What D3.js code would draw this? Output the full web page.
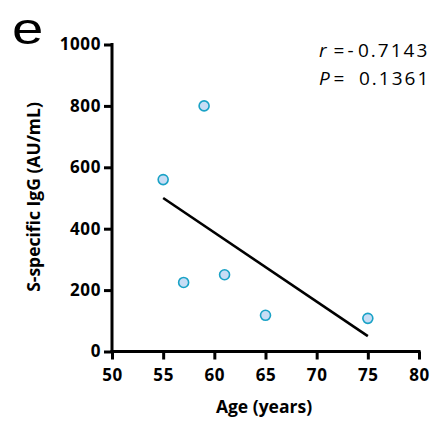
<!DOCTYPE html>
<html><head><meta charset="utf-8">
<script src="https://cdn.jsdelivr.net/npm/d3@7"></script>
<style>body{margin:0;background:#fff}svg{display:block}</style>
</head><body>
<script>
const ages = [55, 57, 59, 61, 65, 75];
const igg = [560, 225, 800, 250, 118, 108];
const fitAges = [55, 75];
const fitIgg = [500, 50];
const xTicks = [50, 55, 60, 65, 70, 75, 80];
const yTicks = [0, 200, 400, 600, 800, 1000];
const statSymbols = ["r", "P"];
const statSigns = ["-", ""];
const statValues = ["0.7143", "0.1361"];

const W = 431, H = 422;
const svg = d3.select("body").append("svg").attr("width", W).attr("height", H);
const x = d3.scaleLinear().domain([50, 80]).range([112, 419]);
const y = d3.scaleLinear().domain([0, 1000]).range([351.5, 44.5]);
const tickFont = "'Open Sans', sans-serif";

const xAxis = svg.append("g").attr("transform", "translate(0,351.5)")
  .call(d3.axisBottom(x).tickValues(xTicks).tickFormat(d3.format("d")).tickSize(8).tickSizeOuter(0).tickPadding(9));
const yAxis = svg.append("g").attr("transform", "translate(112,0)")
  .call(d3.axisLeft(y).tickValues(yTicks).tickFormat(d3.format("d")).tickSize(8).tickSizeOuter(0).tickPadding(3));
[xAxis, yAxis].forEach(g => {
  g.select(".domain").attr("stroke", "#000").attr("stroke-width", 3);
  g.selectAll(".tick line").attr("stroke", "#000").attr("stroke-width", 3);
  g.selectAll(".tick text").attr("fill", "#000").style("font-family", tickFont)
    .style("font-weight", "bold").style("font-size", "17px").style("letter-spacing", "0.6px");
});
xAxis.select(".domain").attr("d", `M${x(50)-1.5},0H${x(80)+1.5}`);
yAxis.select(".domain").attr("d", `M0,${y(0)+1.5}V${y(1000)-1.5}`);

// regression line
svg.append("path")
  .datum(fitAges.map((a, i) => [a, fitIgg[i]]))
  .attr("d", d3.line().x(d => x(d[0])).y(d => y(d[1])))
  .attr("stroke", "#000").attr("stroke-width", 2.6).attr("fill", "none");

// points
svg.append("g").selectAll("circle").data(ages.map((a, i) => [a, igg[i]])).join("circle")
  .attr("cx", d => x(d[0])).attr("cy", d => y(d[1])).attr("r", 5)
  .attr("fill", "#c8ddf5").attr("stroke", "#1aa2c6").attr("stroke-width", 1.6);

// axis titles
svg.append("text").attr("x", 264).attr("y", 413).attr("text-anchor", "middle")
  .style("font-family", tickFont).style("font-weight", "bold").style("font-size", "17.5px")
  .text("Age (years)");
svg.append("text").attr("transform", "translate(40,197) rotate(-90)").attr("text-anchor", "middle")
  .style("font-family", tickFont).style("font-weight", "bold").style("font-size", "17.5px")
  .text("S-specific IgG (AU/mL)");

// panel letter
svg.append("text").attr("transform", "translate(12,44) scale(1.28,1)")
  .style("font-family", "'Liberation Sans', Arial, sans-serif").style("font-size", "44px")
  .text("e");

// stats
statSymbols.forEach((sym, i) => {
  const t = svg.append("text").attr("y", 56.5 + i * 28)
    .style("font-family", tickFont).style("font-size", "19px").attr("fill", "#000");
  t.append("tspan").attr("x", 319).style("font-style", "italic").text(sym);
  t.append("tspan").attr("x", 333.5).text("=");
  if (statSigns[i]) t.append("tspan").attr("x", 347.5).text(statSigns[i]);
  t.append("tspan").attr("x", 358 + (statSigns[i] ? 0 : 1)).style("letter-spacing", "2px").text(statValues[i]);
});
</script>
</body></html>
